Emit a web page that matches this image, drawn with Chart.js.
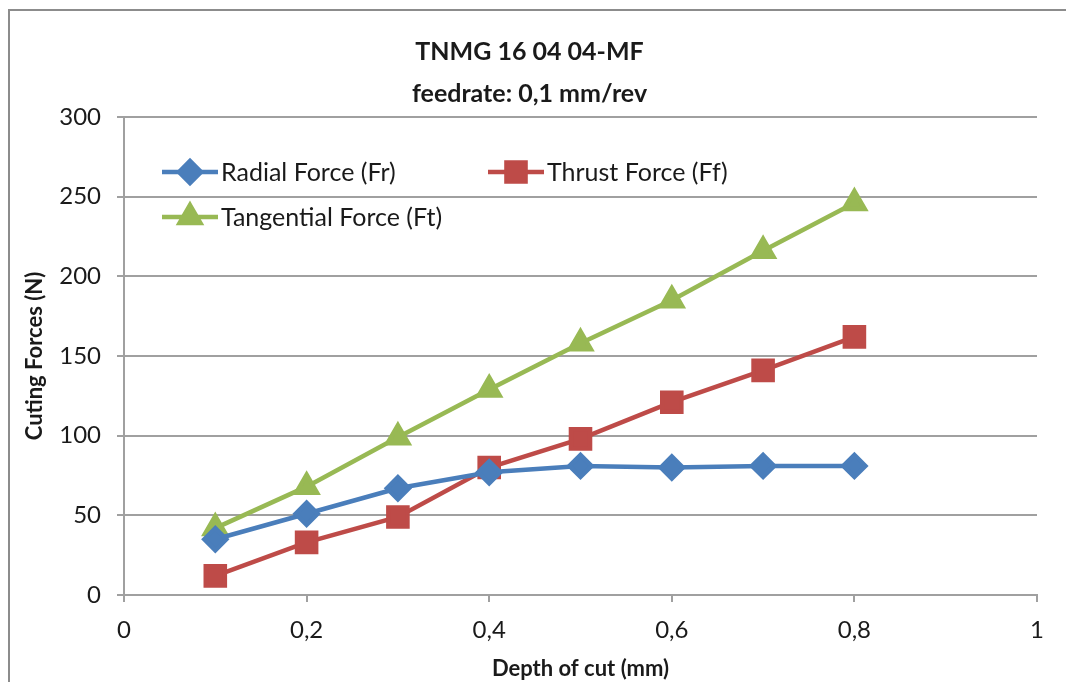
<!DOCTYPE html>
<html>
<head>
<meta charset="utf-8">
<script src="https://cdn.jsdelivr.net/npm/chart.js@4.4.0/dist/chart.umd.min.js"></script>
<style>
  body { margin: 0; background: #fff; }
  #wrap { position: relative; width: 1066px; height: 682px; overflow: hidden; }
  #frame { position: absolute; left: 8px; top: 9px; width: 1100px; height: 700px;
           border-left: 2px solid #8c8c8c; border-top: 2px solid #8c8c8c; }
  canvas { position: absolute; left: 0; top: 0; }
</style>
</head>
<body>
<div id="wrap">
  <div id="frame"></div>
  <canvas id="myChart" width="1066" height="682"></canvas>
</div>
<script>
/***** data *****/
var depths = [0.1, 0.2, 0.3, 0.4, 0.5, 0.6, 0.7, 0.8];
var radial = [35, 51, 67, 77, 81, 80, 81, 81];
var thrust = [12, 33, 49, 80, 98, 121, 141, 162];
var tangential = [42, 68, 99, 129, 158, 185, 216, 246];
var seriesNames = ['Radial Force (Fr)', 'Thrust Force (Ff)', 'Tangential Force (Ft)'];
var titleLines = ['TNMG 16 04 04-MF', 'feedrate: 0,1 mm/rev'];
var xTitle = 'Depth of cut (mm)';
var yTitle = 'Cuting Forces (N)';

var FONT = 'Lato, "Open Sans", sans-serif';
var GRID = '#a0a0a0';

function pts(vals) {
    return depths.map(function (d, i) { return { x: d, y: vals[i] }; });
}

// legend drawn inside the plot, excel style (line with marker in the middle)
var insideLegend = {
    id: 'insideLegend',
    afterDraw: function (chart) {
        var ctx = chart.ctx;
        var slots = [
            { x: 162, y: 172 },
            { x: 488, y: 172 },
            { x: 162, y: 217 }
        ];
        chart.data.datasets.forEach(function (ds, i) {
            var s = slots[i];
            ctx.save();
            ctx.strokeStyle = ds.borderColor;
            ctx.lineWidth = ds.borderWidth;
            ctx.beginPath();
            ctx.moveTo(s.x, s.y);
            ctx.lineTo(s.x + 56, s.y);
            ctx.stroke();
            Chart.helpers.drawPoint(ctx, {
                pointStyle: ds.pointStyle,
                radius: ds.pointRadius,
                rotation: 0,
                borderWidth: 1
            }, s.x + 28, s.y);
            ctx.fillStyle = ds.backgroundColor;
            ctx.fill();
            ctx.fillStyle = '#1a1a1a';
            ctx.font = '25px ' + FONT;
            ctx.textBaseline = 'middle';
            ctx.fillText(ds.label, s.x + 59, s.y + 1);
            ctx.restore();
        });
    }
};

var myChart = new Chart(document.getElementById('myChart'), {
    type: 'line',
    data: {
        datasets: [{
            label: seriesNames[0],
            data: pts(radial),
            borderColor: '#4a7ebb',
            backgroundColor: '#4a7ebb',
            borderWidth: 4.5,
            pointStyle: 'rectRot',
            pointRadius: 11
        }, {
            label: seriesNames[1],
            data: pts(thrust),
            borderColor: '#be4b48',
            backgroundColor: '#be4b48',
            borderWidth: 4.5,
            pointStyle: 'rect',
            pointRadius: 13.5
        }, {
            label: seriesNames[2],
            data: pts(tangential),
            borderColor: '#98b954',
            backgroundColor: '#98b954',
            borderWidth: 4.5,
            pointStyle: 'triangle',
            pointRadius: 12
        }]
    },
    options: {
        responsive: false,
        animation: false,
        devicePixelRatio: 1,
        layout: { padding: { left: 22, right: 29, top: 0, bottom: 0 } },
        elements: { line: { tension: 0 }, point: { borderWidth: 0, hoverRadius: 11 } },
        plugins: {
            legend: { display: false },
            tooltip: { enabled: false },
            title: {
                display: true,
                text: titleLines,
                color: '#1a1a1a',
                font: { family: FONT, size: 25, weight: 'bold', lineHeight: 1.68 },
                padding: { top: 31, bottom: 2 }
            }
        },
        scales: {
            x: {
                type: 'linear',
                min: 0,
                max: 1,
                ticks: {
                    stepSize: 0.2,
                    color: '#1a1a1a',
                    font: { family: FONT, size: 24 },
                    padding: 14,
                    maxRotation: 0,
                    callback: function (v) { return String(+v.toFixed(1)).replace('.', ','); }
                },
                grid: { drawOnChartArea: false, drawTicks: true, tickLength: 7, color: GRID, lineWidth: 2 },
                border: { color: GRID, width: 2 },
                title: {
                    display: true,
                    text: xTitle,
                    color: '#1a1a1a',
                    font: { family: FONT, size: 22, weight: 'bold' },
                    padding: { top: 0, bottom: 0 }
                },
                afterFit: function (scale) { scale.height = 87; }
            },
            y: {
                min: 0,
                max: 300,
                ticks: {
                    stepSize: 50,
                    color: '#1a1a1a',
                    font: { family: FONT, size: 24 },
                    padding: 16
                },
                grid: { color: GRID, lineWidth: 2, tickLength: 7 },
                border: { color: GRID, width: 2 },
                title: {
                    display: true,
                    text: yTitle,
                    color: '#1a1a1a',
                    font: { family: FONT, size: 22, weight: 'bold' },
                    padding: { top: 0, bottom: 4 }
                },
                afterFit: function (scale) { scale.width = 102; }
            }
        }
    },
    plugins: [insideLegend]
});
</script>
</body>
</html>
